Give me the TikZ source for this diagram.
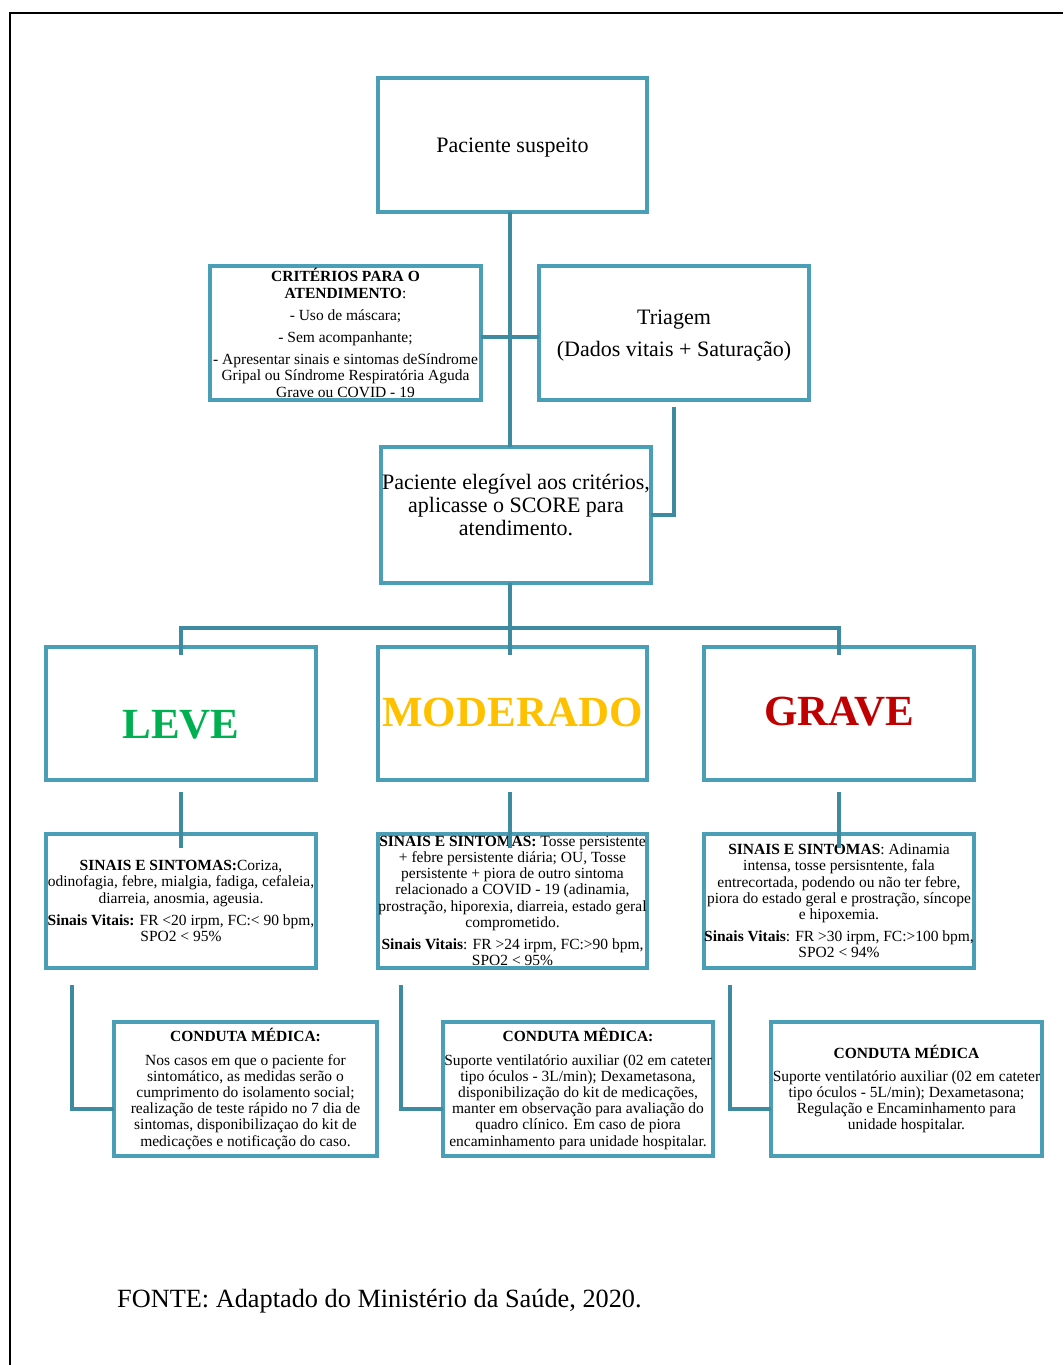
\documentclass[tikz,border=0pt]{standalone}
\usepackage{fontspec}
\setmainfont{Liberation Serif}
\definecolor{boxc}{RGB}{74,158,181}
\definecolor{connc}{RGB}{62,138,160}
\definecolor{levec}{RGB}{0,176,80}
\definecolor{modc}{RGB}{255,192,0}
\definecolor{gravec}{RGB}{192,0,0}
\begin{document}
\begin{tikzpicture}[x=1pt,y=-1pt,
  box/.style={draw=boxc,line width=4pt,minimum width=#1,minimum height=134pt,inner sep=0pt,outer sep=0pt},
  conn/.style={draw=connc,line width=4pt},
  small/.style={font=\fontsize{15.5}{16.2}\selectfont,align=center,inner sep=0pt},
  mainf/.style={font=\fontsize{22}{23}\selectfont,align=center,inner sep=0pt},
  head/.style={font=\fontsize{43}{45}\selectfont\bfseries,inner sep=0pt}]
\useasboundingbox (0,0) rectangle (1063,1365);
% page frame
\draw[line width=1.5pt] (10,1365) -- (10,13) -- (1063,13);

% boxes
\node[box=269] (sus) at (512.5,145) {};
\node[box=271] (crit) at (345.5,333) {};
\node[box=270] (tri) at (674,333) {};
\node[box=270,minimum height=136pt] (ele) at (516,515) {};
\node[box=270,minimum height=133pt] (leve) at (181,713.5) {};
\node[box=269,minimum height=133pt] (mod) at (512.5,713.5) {};
\node[box=270,minimum height=133pt] (grave) at (839,713.5) {};
\node[box=270] (sL) at (181,901) {};
\node[box=269] (sM) at (512.5,901) {};
\node[box=270] (sG) at (839,901) {};
\node[box=263] (cL) at (245.5,1089) {};
\node[box=270] (cM) at (578,1089) {};
\node[box=271] (cG) at (906.5,1089) {};

% texts
\node[mainf] (susT) at ([yshift=-3]sus.center) {Paciente suspeito};
\node[small] (critT) at (crit.center) {\textbf{CRITÉRIOS PARA O}\\ \textbf{ATENDIMENTO}:\\[6pt]
- Uso de máscara;\\[6pt] - Sem acompanhante;\\[6pt]
- Apresentar sinais e sintomas deSíndrome\\ Gripal ou Síndrome Respiratória Aguda\\ Grave ou COVID - 19};
\node[mainf,font=\fontsize{22}{25}\selectfont] (triT) at ([yshift=-3]tri.center) {Triagem\\[7pt](Dados vitais + Saturação)};
\node[mainf] (eleT) at ([yshift=10]ele.center) {Paciente elegível aos critérios,\\ aplicasse o SCORE para\\ atendimento.};
\node[head,text=levec] (leveT) at ([yshift=-11.5]leve.center) {LEVE};
\node[head,text=modc] (modT) at ([yshift=1.5]mod.center) {MODERADO};
\node[head,text=gravec] (graveT) at ([yshift=1.5]grave.center) {GRAVE};

\node[small] (sLT) at (sL.center) {\textbf{SINAIS E SINTOMAS:}Coriza,\\ odinofagia, febre, mialgia, fadiga, cefaleia,\\ diarreia, anosmia, ageusia.\\[6pt]
\textbf{Sinais Vitais:} FR <20 irpm, FC:< 90 bpm,\\ SPO2 < 95\%};
\node[small] (sMT) at (sM.center) {\textbf{SINAIS E SINTOMAS:} Tosse persistente\\ + febre persistente diária; OU, Tosse\\ persistente + piora de outro sintoma\\ relacionado a COVID - 19 (adinamia,\\ prostração, hiporexia, diarreia, estado geral\\ comprometido.\\[6pt]
\textbf{Sinais Vitais}: FR >24 irpm, FC:>90 bpm,\\ SPO2 < 95\%};
\node[small] (sGT) at (sG.center) {\textbf{SINAIS E SINTOMAS}: Adinamia\\ intensa, tosse persisntente, fala\\ entrecortada, podendo ou não ter febre,\\ piora do estado geral e prostração, síncope\\ e hipoxemia.\\[6pt]
\textbf{Sinais Vitais}: FR >30 irpm, FC:>100 bpm,\\ SPO2 < 94\%};

\node[small] (cLT) at (cL.center) {\textbf{CONDUTA MÉDICA:}\\[7pt] Nos casos em que o paciente for\\ sintomático, as medidas serão o\\ cumprimento do isolamento social;\\ realização de teste rápido no 7 dia de\\ sintomas, disponibilizaçao do kit de\\ medicações e notificação do caso.};
\node[small] (cMT) at (cM.center) {\textbf{CONDUTA MÊDICA:}\\[7pt] Suporte ventilatório auxiliar (02 em cateter\\ tipo óculos - 3L/min); Dexametasona,\\ disponibilização do kit de medicações,\\ manter em observação para avaliação do\\ quadro clínico. Em caso de piora\\ encaminhamento para unidade hospitalar.};
\node[small] (cGT) at (cG.center) {\textbf{CONDUTA MÉDICA}\\[7pt] Suporte ventilatório auxiliar (02 em cateter\\ tipo óculos - 5L/min); Dexametasona;\\ Regulação e Encaminhamento para\\ unidade hospitalar.};

\node[font=\fontsize{26.3}{30}\selectfont,anchor=west,inner sep=0pt] (fonte) at (117,1301) {FONTE: Adaptado do Ministério da Saúde, 2020.};

% connectors
\coordinate (hub) at (510,628);
\draw[conn] ([xshift=-2.5]sus.south) -- ([xshift=-2.5]sus.south |- ele.north);
\draw[conn] ([yshift=-4]crit.east) -- ([yshift=-4]tri.west);
\draw[conn] ([yshift=-7]tri.south) |- (ele.east);
\draw[conn] (ele.south -| hub) -- (hub) -- ([yshift=-8]mod.north -| hub);
\draw[conn] ([yshift=-8]leve.north) -- (leve.north |- hub) -- (grave.north |- hub) -- ([yshift=-8]grave.north);
\draw[conn] ([yshift=-12]leve.south) -- ([yshift=-14]sL.north);
\draw[conn] ([yshift=-12]mod.south -| hub) -- ([yshift=-14]sM.north -| hub);
\draw[conn] ([yshift=-12]grave.south) -- ([yshift=-14]sG.north);
\draw[conn] ([xshift=26,yshift=-17]sL.south west) |- ([yshift=-20]cL.west);
\draw[conn] ([xshift=23,yshift=-17]sM.south west) |- ([yshift=-20]cM.west);
\draw[conn] ([xshift=26,yshift=-17]sG.south west) |- ([yshift=-20]cG.west);
\end{tikzpicture}
\end{document}
